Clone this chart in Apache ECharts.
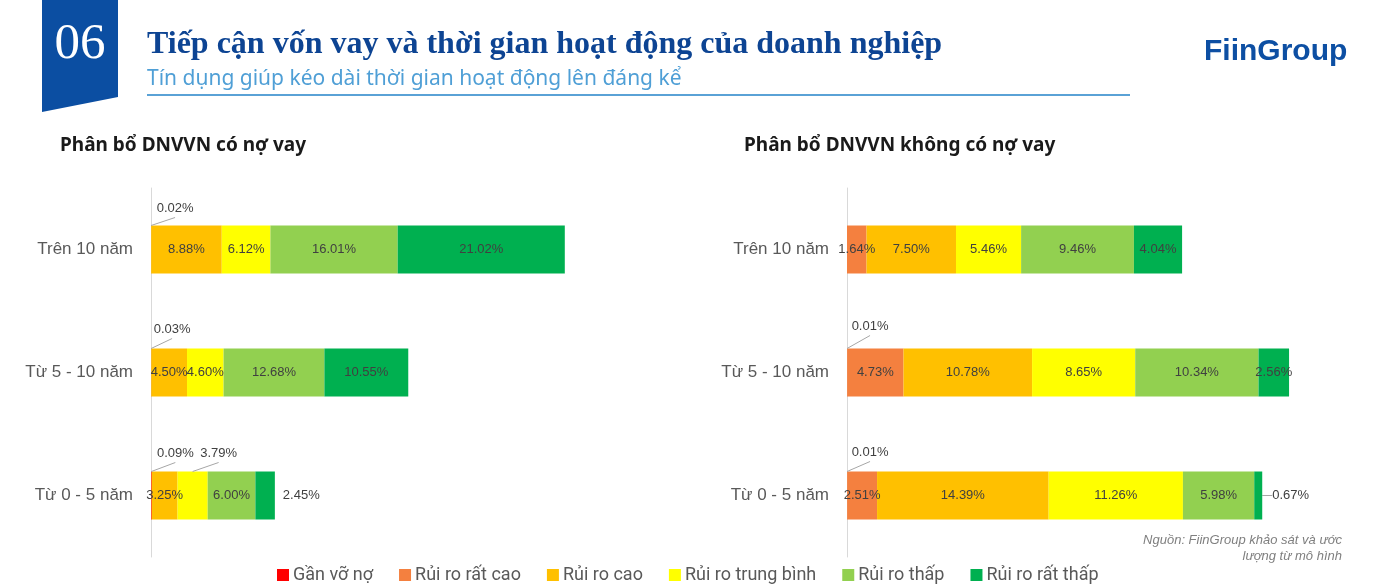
<!DOCTYPE html>
<html>
<head>
<meta charset="utf-8">
<script src="https://cdn.jsdelivr.net/npm/echarts@6/dist/echarts.min.js"></script>
<style>
  html, body { margin: 0; padding: 0; background: #fff; }
  #main { width: 1392px; height: 588px; }
</style>
</head>
<body>
<div id="main"></div>
<script>
// danh mục (từ dưới lên)
const categories = ['Từ 0 - 5 năm', 'Từ 5 - 10 năm', 'Trên 10 năm']
const riskNames = ['Gần vỡ nợ', 'Rủi ro rất cao', 'Rủi ro cao', 'Rủi ro trung bình', 'Rủi ro thấp', 'Rủi ro rất thấp']
const riskColors = ['#ff0000', '#f4803f', '#ffc000', '#ffff00', '#92d050', '#00b050']

// DNVVN có nợ vay (%)
const coNo_ganVoNo = [0.09, 0.03, 0.02]
const coNo_ratCao = [0, 0, 0]
const coNo_cao = [3.25, 4.50, 8.88]
const coNo_trungBinh = [3.79, 4.60, 6.12]
const coNo_thap = [6.00, 12.68, 16.01]
const coNo_ratThap = [2.45, 10.55, 21.02]

// DNVVN không có nợ vay (%)
const khongNo_ganVoNo = [0.01, 0.01, 0]
const khongNo_ratCao = [2.51, 4.73, 1.64]
const khongNo_cao = [14.39, 10.78, 7.50]
const khongNo_trungBinh = [11.26, 8.65, 5.46]
const khongNo_thap = [5.98, 10.34, 9.46]
const khongNo_ratThap = [0.67, 2.56, 4.04]

const leftSeries = [coNo_ganVoNo, coNo_ratCao, coNo_cao, coNo_trungBinh, coNo_thap, coNo_ratThap]
const rightSeries = [khongNo_ganVoNo, khongNo_ratCao, khongNo_cao, khongNo_trungBinh, khongNo_thap, khongNo_ratThap]

// nhãn chú thích kéo ra ngoài: [lưới, chuỗi, hàng, dx, dy] (so với giữa cạnh trên của đoạn)
const callouts = [
    [0, 0, 2, 24, -17],
    [0, 0, 1, 21, -19],
    [0, 0, 0, 24, -18],
    [0, 3, 0, 26, -18],
    [1, 0, 1, 23, -22],
    [1, 0, 0, 23, -19]
]
// nhãn bên phải thanh: [lưới, chuỗi, hàng, có đường dẫn]
const rightLabels = [
    [0, 5, 0, false],
    [1, 5, 0, true]
]

const BAR_W = 48

let chart = echarts.init(document.getElementById('main'))

function findCallout(g, s, i) {
    return callouts.find(c => c[0] === g && c[1] === s && c[2] === i)
}
function findRight(g, s, i) {
    return rightLabels.find(c => c[0] === g && c[1] === s && c[2] === i)
}

function buildSeries(values, g) {
    let bars = values.map((arr, s) => {
        return {
            name: riskNames[s],
            type: 'bar',
            stack: 'g' + g,
            xAxisIndex: g,
            yAxisIndex: g,
            barWidth: BAR_W,
            itemStyle: { color: riskColors[s] },
            label: {
                show: true,
                position: 'inside',
                color: '#404040',
                fontSize: 13,
                fontFamily: 'Liberation Sans',
                formatter: p => p.value ? p.value.toFixed(2) + '%' : ''
            },
            labelLine: {
                lineStyle: { color: '#a6a6a6', width: 1 }
            },
            labelLayout: params => {
                let c = findCallout(g, s, params.dataIndex)
                if (c) {
                    let r = params.rect
                    return {
                        x: r.x + r.width / 2 + c[3],
                        y: r.y + c[4],
                        align: 'center',
                        verticalAlign: 'middle'
                    }
                }
                let rl = findRight(g, s, params.dataIndex)
                if (rl && rl[3]) {
                    return { dx: 6 }
                }
            },
            data: arr.map((v, i) => {
                let item = { value: v }
                let r = findRight(g, s, i)
                if (r) {
                    item.label = { position: 'right', distance: r[3] ? 4 : 8 }
                    if (r[3]) item.labelLine = { show: true }
                }
                return item
            })
        }
    })
    // đường dẫn cho các nhãn chú thích
    let leaderData = callouts.filter(c => c[0] === g).map(c => {
        let before = 0
        for (let k = 0; k < c[1]; k++) before += values[k][c[2]]
        return [before + values[c[1]][c[2]] / 2, c[2], c[3], c[4]]
    })
    bars.push({
        type: 'custom',
        xAxisIndex: g,
        yAxisIndex: g,
        silent: true,
        z: 5,
        encode: { x: 0, y: 1 },
        data: leaderData,
        renderItem: (params, api) => {
            let p = api.coord([api.value(0), api.value(1)])
            let top = p[1] - BAR_W / 2
            return {
                type: 'line',
                shape: { x1: p[0], y1: top, x2: p[0] + api.value(2), y2: top + api.value(3) + 9 },
                style: { stroke: '#a6a6a6', lineWidth: 1 }
            }
        }
    })
    return bars
}

let option = {
    animation: false,
    textStyle: { fontFamily: 'Liberation Sans' },
    title: [
        {
            text: 'Phân bổ DNVVN có nợ vay',
            left: 55, top: 131,
            textStyle: { fontFamily: 'Noto Sans', fontWeight: 'bold', fontSize: 19, color: '#1a1a1a' }
        },
        {
            text: 'Phân bổ DNVVN không có nợ vay',
            left: 739, top: 131,
            textStyle: { fontFamily: 'Noto Sans', fontWeight: 'bold', fontSize: 19, color: '#1a1a1a' }
        }
    ],
    graphic: [
        {
            type: 'polygon',
            shape: { points: [[42, 0], [118, 0], [118, 97], [42, 112]] },
            style: { fill: '#0b4ea2' }
        },
        {
            type: 'text', x: 80, y: 45,
            style: {
                text: '06', fill: '#fff', font: '51px "Liberation Serif"',
                align: 'center', verticalAlign: 'middle'
            }
        },
        {
            type: 'text', x: 147, y: 45,
            style: {
                text: 'Tiếp cận vốn vay và thời gian hoạt động của doanh nghiệp',
                fill: '#0d4493', font: 'bold 32px "Liberation Serif"',
                verticalAlign: 'middle'
            }
        },
        {
            type: 'text', x: 147, y: 79,
            style: {
                text: 'Tín dụng giúp kéo dài thời gian hoạt động lên đáng kể',
                fill: '#4f9fd6', font: '21px "Noto Sans"',
                verticalAlign: 'middle'
            }
        },
        {
            type: 'line',
            shape: { x1: 147, y1: 95, x2: 1130, y2: 95 },
            style: { stroke: '#5aa2d6', lineWidth: 2 }
        },
        {
            type: 'text', x: 1204, y: 52,
            style: {
                text: 'FiinGroup', fill: '#0d4fa3', font: 'bold 30px "Liberation Sans"',
                verticalAlign: 'middle'
            }
        },
        {
            type: 'text', x: 1342, y: 548,
            style: {
                text: 'Nguồn: FiinGroup khảo sát và ước\nlượng từ mô hình',
                fill: '#7f7f7f', font: 'italic 13px "Liberation Sans"',
                align: 'right', verticalAlign: 'middle', lineHeight: 16
            }
        }
    ],
    legend: {
        data: riskNames,
        left: 272, top: 561,
        icon: 'rect',
        itemWidth: 12, itemHeight: 12,
        itemGap: 26,
        textStyle: { fontSize: 18, color: '#595959', fontFamily: 'Roboto', padding: [0, 0, 0, -1] },
        selectedMode: false
    },
    grid: [
        { left: 151, width: 477, top: 188, height: 369 },
        { left: 847, width: 477, top: 188, height: 369 }
    ],
    xAxis: [
        { type: 'value', gridIndex: 0, min: 0, max: 60, show: false },
        { type: 'value', gridIndex: 1, min: 0, max: 40, show: false }
    ],
    yAxis: [0, 1].map(g => ({
        type: 'category',
        gridIndex: g,
        data: categories,
        axisTick: { show: false },
        axisLine: { lineStyle: { color: '#d9d9d9', width: 1 } },
        axisLabel: { fontSize: 17, color: '#595959', margin: 18, fontFamily: 'Liberation Sans' }
    })),
    series: buildSeries(leftSeries, 0).concat(buildSeries(rightSeries, 1))
}

chart.setOption(option)
</script>
</body>
</html>
